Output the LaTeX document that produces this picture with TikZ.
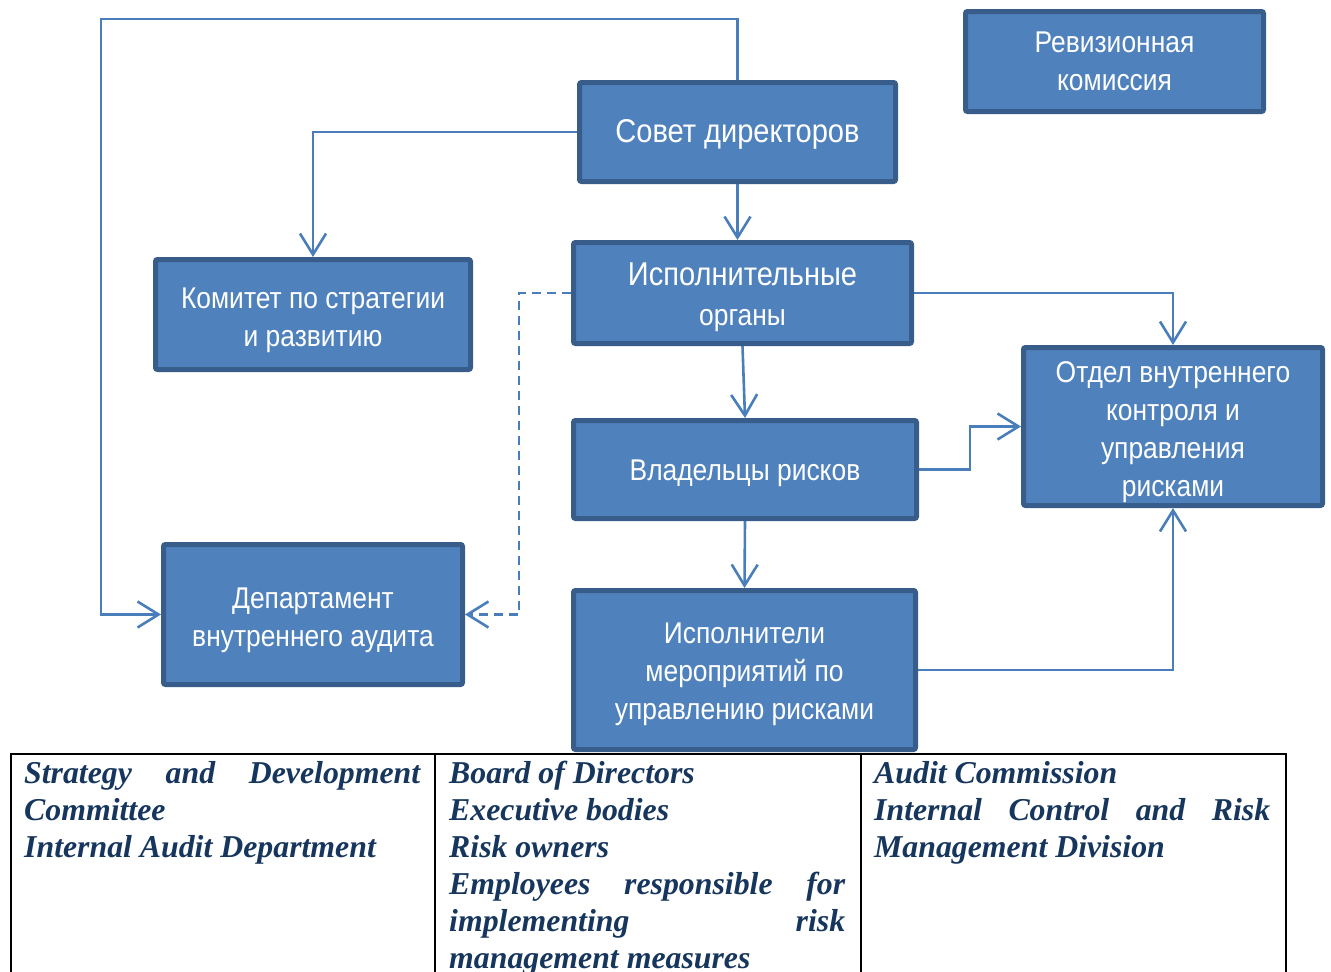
\documentclass[tikz,border=0pt]{standalone}
\usepackage{fontspec}
\setmainfont{Liberation Serif}
\newfontfamily\boxfont[FakeStretch=0.88]{Liberation Sans}
\usetikzlibrary{arrows.meta}
\definecolor{boxfill}{HTML}{4F81BD}
\definecolor{boxline}{HTML}{385D8A}
\definecolor{conncol}{HTML}{4A7EBB}
\definecolor{tbltext}{HTML}{17365D}
\newcommand\bxtext[2][4pt]{\raisebox{-#1}[\height][\depth]{\begin{tabular}{@{}c@{}}#2\end{tabular}}}
\tikzset{
  orgbox/.style={draw=boxline, fill=boxfill, line width=5pt, rounded corners=2pt,
    inner sep=0pt, align=center, text=white,
    font=\boxfont\fontsize{30}{38}\selectfont},
  conn/.style={draw=conncol, line width=2.6pt,
    -{Straight Barb[length=21pt,width=26pt,line width=2.6pt]}},
  tbl/.style={draw=black, line width=2.5pt},
  coltext/.style={anchor=base west, inner sep=0pt, text=tbltext,
    font=\bfseries\itshape\fontsize{31.8}{37}\selectfont}
}
\begin{document}
\begin{tikzpicture}[x=1pt,y=-1pt]
\useasboundingbox (0,0) rectangle (1331,972);

\node[orgbox, minimum width=316pt, minimum height=99pt] (sovet) at (737.5,132)
  {\bxtext[3pt]{\fontsize{33}{38}\selectfont Совет директоров}};
\node[orgbox, minimum width=298pt, minimum height=100pt] (rev) at (1114.5,61.5)
  {\bxtext[2pt]{Ревизионная\\комиссия}};
\node[orgbox, minimum width=315pt, minimum height=110pt] (kom) at (313,314.5)
  {\bxtext[5pt]{Комитет по стратегии\\и развитию}};
\node[orgbox, minimum width=338pt, minimum height=101pt] (isp) at (742.5,293)
  {\bxtext[5pt]{{\fontsize{33}{38}\selectfont Исполнительные}\\[2pt]органы}};
\node[orgbox, minimum width=299pt, minimum height=158pt] (otdel) at (1173,426.5)
  {\bxtext[5pt]{Отдел внутреннего\\контроля и\\управления\\рисками}};
\node[orgbox, minimum width=343pt, minimum height=98pt] (vlad) at (745,469.5)
  {\bxtext[3pt]{Владельцы рисков}};
\node[orgbox, minimum width=299pt, minimum height=140pt] (dept) at (313,614.5)
  {\bxtext[5pt]{Департамент\\внутреннего аудита}};
\node[orgbox, minimum width=342pt, minimum height=159pt] (ispm) at (744.5,670)
  {\bxtext[4pt]{Исполнители\\мероприятий по\\управлению рисками}};

\coordinate (tl) at (101,19);
\coordinate (dx) at (519,0);
\coordinate (vx) at (970,0);

\draw[conn] (sovet.north) |- (tl) |- (dept.west);
\draw[conn] (sovet.west) -| (kom.north);
\draw[conn] (sovet.south) -- (sovet.south |- isp.north);
\draw[conn] (isp.east) -| (otdel.north);
\draw[conn] (isp.south) -- (vlad.north);
\draw[conn, dash pattern=on 9pt off 6pt] (isp.west) -| (dx |- dept.east) -- (dept.east);
\draw[conn] (vlad.east) -| (vx |- otdel.west) -- (otdel.west);
\draw[conn] (vlad.south) -- (ispm.north);
\draw[conn] (ispm.east) -| (otdel.south);

\draw[tbl] (11,975) -- (11,754) -- (1286,754) -- (1286,975);
\draw[tbl] (435,754) -- (435,975);
\draw[tbl] (861,754) -- (861,975);

\node[coltext] (c1) at (24,783) {\parbox[t]{396pt}{\raggedright
  Strategy\hfill and\hfill Development\\
  Committee\\
  Internal Audit Department}};
\node[coltext] (c2) at (449,783) {\parbox[t]{396pt}{\raggedright
  Board of Directors\\
  Executive bodies\\
  Risk owners\\
  Employees\hfill responsible\hfill for\\
  implementing\hfill risk\\
  management measures}};
\node[coltext] (c3) at (874,783) {\parbox[t]{396pt}{\raggedright
  Audit Commission\\
  Internal\hfill Control\hfill and\hfill Risk\\
  Management Division}};
\end{tikzpicture}
\end{document}
